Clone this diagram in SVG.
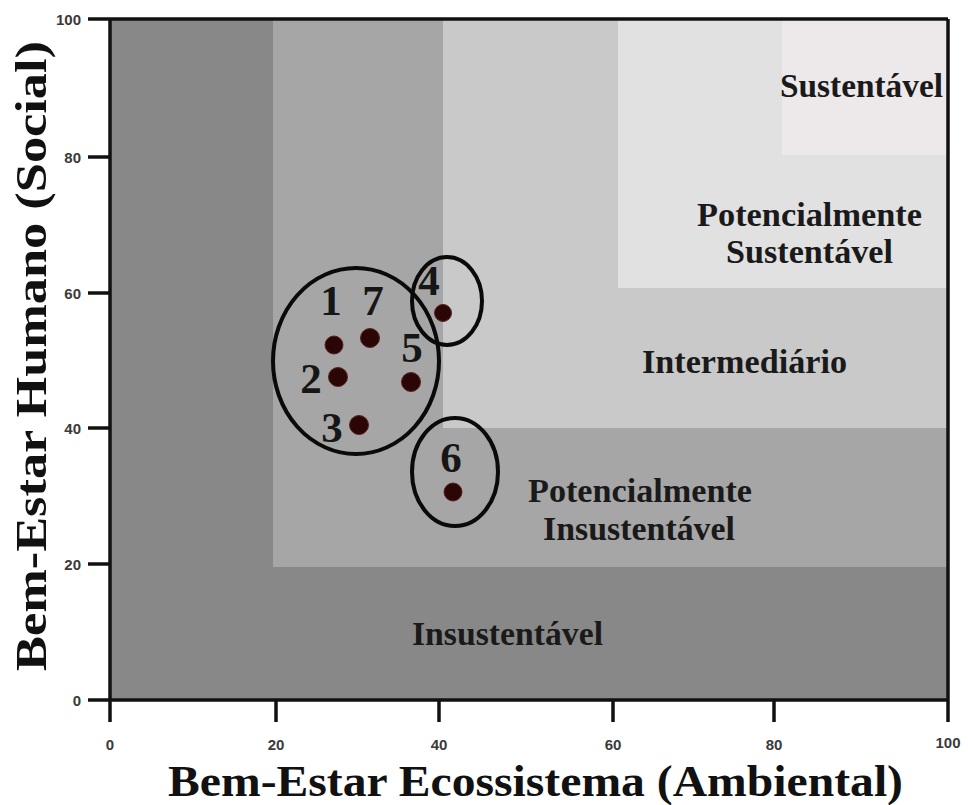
<svg xmlns="http://www.w3.org/2000/svg" width="968" height="805" viewBox="0 0 968 805">
<style>
.zone-label{font-family:"Liberation Serif","Times New Roman",serif;font-weight:bold;font-size:33px;fill:#1a1a1a}
.num{font-family:"Liberation Serif","Times New Roman",serif;font-weight:bold;font-size:43px;fill:#161616}
.tick-label{font-family:"Liberation Sans",Arial,sans-serif;font-weight:bold;font-size:15px;fill:#3a3a3a}
.axis-title{font-family:"Liberation Serif","Times New Roman",serif;font-weight:bold;font-size:45px;fill:#111}
.axis{stroke:#111;stroke-width:3.5;fill:none}
.dot{fill:#2a0606;stroke:#5a2020;stroke-width:1}
.ring{fill:none;stroke:#0a0a0a;stroke-width:4}
</style>
<rect x="0" y="0" width="968" height="805" fill="#ffffff"/>

<g id="zone-insustentavel">
  <rect x="110" y="19" width="838" height="681" fill="#888888"/>
  <text class="zone-label" x="412" y="645" textLength="191" lengthAdjust="spacingAndGlyphs">Insustentável</text>
</g>
<g id="zone-potencialmente-insustentavel">
  <rect x="273" y="19" width="675" height="548" fill="#a6a6a6"/>
  <text class="zone-label" x="528" y="502" textLength="224" lengthAdjust="spacingAndGlyphs">Potencialmente</text>
  <text class="zone-label" x="543" y="540" textLength="192" lengthAdjust="spacingAndGlyphs">Insustentável</text>
</g>
<g id="zone-intermediario">
  <rect x="443" y="19" width="505" height="409" fill="#c9c9c9"/>
  <text class="zone-label" x="642" y="373" textLength="205" lengthAdjust="spacingAndGlyphs">Intermediário</text>
</g>
<g id="zone-potencialmente-sustentavel">
  <rect x="618" y="19" width="330" height="269" fill="#e1e1e1"/>
  <text class="zone-label" x="697" y="226" textLength="225" lengthAdjust="spacingAndGlyphs">Potencialmente</text>
  <text class="zone-label" x="726" y="263" textLength="167" lengthAdjust="spacingAndGlyphs">Sustentável</text>
</g>
<g id="zone-sustentavel">
  <rect x="782" y="19" width="166" height="136" fill="#ede8e9"/>
  <text class="zone-label" x="780" y="97" textLength="163" lengthAdjust="spacingAndGlyphs">Sustentável</text>
</g>

<g id="axes">
  <line class="axis" x1="88" y1="19" x2="948" y2="19"/>
  <line class="axis" x1="948" y1="19" x2="948" y2="722"/>
  <line class="axis" x1="88" y1="700" x2="948" y2="700"/>
  <line class="axis" x1="110" y1="19" x2="110" y2="722"/>
  <line class="axis" x1="88" y1="157" x2="110" y2="157"/>
  <line class="axis" x1="88" y1="293" x2="110" y2="293"/>
  <line class="axis" x1="88" y1="428" x2="110" y2="428"/>
  <line class="axis" x1="88" y1="564" x2="110" y2="564"/>
  <line class="axis" x1="276" y1="700" x2="276" y2="722"/>
  <line class="axis" x1="439" y1="700" x2="439" y2="722"/>
  <line class="axis" x1="613" y1="700" x2="613" y2="722"/>
  <line class="axis" x1="774" y1="700" x2="774" y2="722"/>
  <g class="tick-label" text-anchor="end">
    <text x="81" y="25">100</text>
    <text x="81" y="163">80</text>
    <text x="81" y="299">60</text>
    <text x="81" y="434">40</text>
    <text x="81" y="570">20</text>
    <text x="81" y="706">0</text>
  </g>
  <g class="tick-label" text-anchor="middle">
    <text x="110" y="750">0</text>
    <text x="276" y="750">20</text>
    <text x="439" y="750">40</text>
    <text x="613" y="750">60</text>
    <text x="774" y="750">80</text>
    <text x="948" y="748">100</text>
  </g>
  <text class="axis-title" x="168" y="796" textLength="735" lengthAdjust="spacingAndGlyphs">Bem-Estar Ecossistema (Ambiental)</text>
  <text class="axis-title" transform="translate(46,356) rotate(-90)" x="0" y="0" text-anchor="middle" textLength="630" lengthAdjust="spacingAndGlyphs">Bem-Estar Humano (Social)</text>
</g>

<g id="group-1-2-3-5-7">
  <ellipse class="ring" cx="356" cy="361" rx="83" ry="93"/>
</g>
<g id="group-4">
  <ellipse class="ring" cx="447" cy="301" rx="35" ry="44"/>
</g>
<g id="group-6">
  <ellipse class="ring" cx="455" cy="472" rx="43" ry="54"/>
</g>

<g id="point-1"><circle class="dot" cx="334" cy="345" r="9"/><text class="num" x="331" y="315" text-anchor="middle">1</text></g>
<g id="point-7"><circle class="dot" cx="370" cy="338" r="9.5"/><text class="num" x="373" y="315" text-anchor="middle">7</text></g>
<g id="point-2"><circle class="dot" cx="338" cy="377" r="9.5"/><text class="num" x="311" y="393" text-anchor="middle">2</text></g>
<g id="point-5"><circle class="dot" cx="411" cy="382" r="9.5"/><text class="num" x="412" y="362" text-anchor="middle">5</text></g>
<g id="point-3"><circle class="dot" cx="359" cy="425" r="9.5"/><text class="num" x="332" y="442" text-anchor="middle">3</text></g>
<g id="point-4"><circle class="dot" cx="443" cy="313" r="8.5"/><text class="num" x="429" y="295" text-anchor="middle">4</text></g>
<g id="point-6"><circle class="dot" cx="453" cy="492" r="9"/><text class="num" x="451" y="472" text-anchor="middle">6</text></g>
</svg>
